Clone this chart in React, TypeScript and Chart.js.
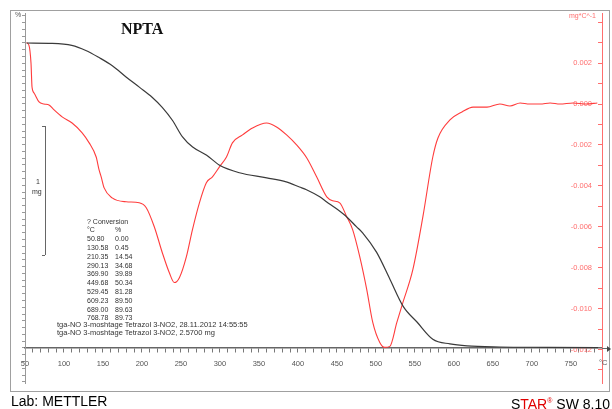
import React, { useEffect, useRef } from "react";
import { Chart, registerables } from "chart.js";

Chart.register(...registerables);

// TGA curve (left axis, %)
const tgaTemp = [52, 85, 110, 128, 145, 162, 180, 197, 213, 226, 239, 252, 265, 283, 299, 325, 360, 385, 402, 411, 428, 437, 450, 463, 475, 483, 501, 518, 535, 553, 573, 595, 617, 659, 720, 785];
const tgaPercent = [90.0, 89.9, 89.3, 87.8, 85.7, 83.3, 79.9, 76.9, 74.0, 71.0, 67.2, 62.3, 59.3, 56.9, 54.0, 51.7, 50.2, 49.0, 47.5, 46.7, 44.6, 43.1, 41.0, 38.6, 35.8, 34.0, 28.2, 20.3, 12.3, 7.6, 2.6, 1.2, 0.6, 0.3, 0.2, 0.1];

// DTG curve (right axis, mg/°C, values in 1e-3)
const dtgTemp = [52, 55, 57.7, 59, 61.6, 68, 74.4, 80.8, 87.3, 97.6, 110.4, 123.3, 132.3, 141.3, 145, 147.7, 151.5, 161.8, 179.8, 196.5, 205.5, 215.8, 226.1, 235, 241.5, 248, 257, 264.7, 273.7, 282.6, 290.4, 299.4, 308.4, 316, 329, 341.8, 359.8, 372.6, 385.5, 398.3, 411.2, 424, 437, 444.6, 453.6, 462.6, 470.3, 479.3, 488.3, 496, 505, 511.4, 517.9, 526.9, 534.6, 547.4, 560.3, 573, 579.6, 595, 610.4, 624.6, 642.5, 659, 672, 685, 697, 710.7, 723.5, 736, 753, 770, 784];
const dtgRateMilli = [3.0, 2.88, 2.0, 0.83, 0.54, 0.1, 0.0, -0.05, -0.29, -0.63, -0.93, -1.41, -1.9, -2.59, -3.22, -3.56, -4.1, -4.59, -4.78, -4.83, -5.07, -6.0, -7.27, -8.24, -8.73, -8.49, -7.46, -6.15, -4.83, -3.85, -3.56, -3.07, -2.59, -1.9, -1.51, -1.17, -0.93, -1.12, -1.51, -2.0, -2.63, -3.56, -4.54, -4.73, -4.83, -5.51, -6.15, -7.46, -9.07, -10.68, -11.66, -11.9, -11.85, -10.68, -9.71, -8.1, -5.51, -2.59, -1.66, -0.78, -0.39, -0.15, -0.15, 0.0, -0.1, 0.05, 0.0, 0.0, 0.05, 0.0, 0.05, 0.0, 0.05];

// Conversion table
const convTemp = ["50.80", "130.58", "210.35", "290.13", "369.90", "449.68", "529.45", "609.23", "689.00", "768.78"];
const convPct = ["0.00", "0.45", "14.54", "34.68", "39.89", "50.34", "81.28", "89.50", "89.63", "89.73"];

const infoLines = [
  "tga-NO 3-moshtage Tetrazol 3-NO2, 28.11.2012 14:55:55",
  "tga-NO 3-moshtage Tetrazol 3-NO2, 2.5700 mg",
];

const SANS = "'Liberation Sans', Arial, sans-serif";
const RED = "rgb(255,60,60)";
const RED_LIGHT = "rgb(255,110,110)";

export default function App() {
  const ref = useRef<HTMLCanvasElement>(null);

  useEffect(() => {
    const chart = new Chart(ref.current!, {
      type: "line",
      data: {
        datasets: [
          {
            label: "TGA",
            data: tgaTemp.map((t, i) => ({ x: t, y: tgaPercent[i] })),
            yAxisID: "y",
            borderColor: "#3a3a3a",
            borderWidth: 1.2,
            pointRadius: 0,
            cubicInterpolationMode: "monotone",
          },
          {
            label: "DTG",
            data: dtgTemp.map((t, i) => ({ x: t, y: dtgRateMilli[i] / 1000 })),
            yAxisID: "y1",
            borderColor: RED,
            borderWidth: 1.1,
            pointRadius: 0,
            cubicInterpolationMode: "monotone",
          },
        ],
      },
      options: {
        animation: false,
        responsive: false,
        events: [],
        layout: { padding: { left: 25, right: 10, top: 13, bottom: 26 }, autoPadding: false },
        plugins: { legend: { display: false }, tooltip: { enabled: false }, title: { display: false } },
        scales: {
          x: {
            type: "linear",
            min: 50,
            max: 790,
            position: { y: 0 } as any,
            border: { display: true, color: "#666", width: 1.5 },
            grid: { drawOnChartArea: false, drawTicks: true, tickLength: 4, color: "#777" },
            ticks: {
              stepSize: 10,
              autoSkip: false,
              includeBounds: false,
              maxRotation: 0,
              padding: 7,
              color: "#555",
              font: { family: SANS, size: 7.5 },
              callback: (v: any) => {
                const n = Math.round(Number(v));
                return n % 50 === 0 && n <= 750 ? String(n) : "";
              },
            },
          },
          y: {
            type: "linear",
            position: "left",
            min: -10.33,
            max: 98.85,
            afterFit: (s: any) => {
              s.width = 0;
            },
            border: { display: true, color: "#999", width: 1 },
            grid: { drawOnChartArea: false, drawTicks: true, tickLength: 3, color: "#999" },
            ticks: {
              stepSize: 2,
              autoSkip: false,
              includeBounds: false,
              padding: 2,
              color: "#555",
              font: { family: SANS, size: 7.5 },
              callback: (v: any) => {
                const n = Math.round(Number(v));
                return n % 10 === 0 && n >= 0 && n <= 90 ? String(n) : "";
              },
            },
          },
          y1: {
            type: "linear",
            position: "right",
            min: -0.01364,
            max: 0.00445,
            afterFit: (s: any) => {
              s.width = 0;
            },
            border: { display: true, color: RED_LIGHT, width: 1 },
            grid: { drawOnChartArea: false, drawTicks: true, tickLength: -4, color: RED_LIGHT },
            ticks: {
              stepSize: 0.001,
              autoSkip: false,
              includeBounds: false,
              mirror: true,
              padding: -10,
              color: RED_LIGHT,
              font: { family: SANS, size: 7.5 },
              callback: (v: any) => {
                const n = Math.round(Number(v) * 1000);
                if (n % 2 !== 0 || n > 2 || n < -12) return "";
                return (n / 1000).toFixed(3);
              },
            },
          },
        },
      },
    });
    return () => chart.destroy();
  }, []);

  const txt = (extra: React.CSSProperties): React.CSSProperties => ({
    position: "absolute",
    fontFamily: SANS,
    fontSize: 7,
    color: "#333",
    whiteSpace: "nowrap",
    lineHeight: "8.8px",
    ...extra,
  });

  return (
    <div style={{ position: "fixed", left: 0, top: 0, width: 612, height: 409, background: "#fff", overflow: "hidden" }}>
      <div style={{ position: "absolute", left: 10, top: 10, width: 598, height: 380, border: "1px solid #a0a0a0" }} />
      <canvas ref={ref} width={612} height={409} style={{ position: "absolute", left: 0, top: 0, width: 612, height: 409 }} />
      {/* x-axis extension with arrow head */}
      <div style={{ position: "absolute", left: 602, top: 347.5, width: 6, height: 0, borderTop: "1.5px solid #666" }} />
      <div style={{ position: "absolute", left: 607, top: 345.5, width: 0, height: 0, borderTop: "3px solid transparent", borderBottom: "3px solid transparent", borderLeft: "4px solid #444" }} />
      <div style={{ position: "absolute", left: 121, top: 20, fontFamily: "'Liberation Serif', 'Times New Roman', serif", fontWeight: "bold", fontSize: 16, color: "#111" }}>
        NPTA
      </div>
      <div style={txt({ left: 15, top: 11, color: "#555" })}>%</div>
      <div style={txt({ left: 560, top: 12, width: 36, textAlign: "right", color: RED_LIGHT })}>mg*C^-1</div>
      <div style={txt({ left: 599, top: 359, color: "#555", fontSize: 7.5 })}>°C</div>
      {/* 1 mg scale bracket */}
      <div style={{ position: "absolute", left: 45, top: 126, width: 0, height: 129, borderLeft: "1px solid #666" }} />
      <div style={{ position: "absolute", left: 42, top: 126, width: 3, height: 0, borderTop: "1px solid #666" }} />
      <div style={{ position: "absolute", left: 42, top: 255, width: 3, height: 0, borderTop: "1px solid #666" }} />
      <div style={txt({ left: 36, top: 178 })}>1</div>
      <div style={txt({ left: 32, top: 188 })}>mg</div>
      {/* conversion table */}
      <div style={txt({ left: 87, top: 217.6 })}>? Conversion</div>
      <div style={txt({ left: 87, top: 226.4 })}>°C</div>
      <div style={txt({ left: 115, top: 226.4 })}>%</div>
      {convTemp.map((t, i) => (
        <React.Fragment key={t}>
          <div style={txt({ left: 87, top: 235.2 + i * 8.8 })}>{t}</div>
          <div style={txt({ left: 115, top: 235.2 + i * 8.8 })}>{convPct[i]}</div>
        </React.Fragment>
      ))}
      {infoLines.map((l, i) => (
        <div key={l} style={txt({ left: 57, top: 320.6 + i * 8.8, fontSize: 7.5 })}>{l}</div>
      ))}
      {/* footer */}
      <div style={{ position: "absolute", left: 11, top: 393, fontFamily: SANS, fontSize: 14, color: "#000", lineHeight: "16px" }}>
        Lab: METTLER
      </div>
      <div style={{ position: "absolute", right: 2, top: 393, fontFamily: SANS, fontSize: 14, color: "#000", lineHeight: "16px", whiteSpace: "nowrap" }}>
        S<span style={{ color: "#e00000" }}>TAR</span>
        <sup style={{ color: "#e00000", fontSize: 7 }}>®</sup> SW 8.10
      </div>
    </div>
  );
}
